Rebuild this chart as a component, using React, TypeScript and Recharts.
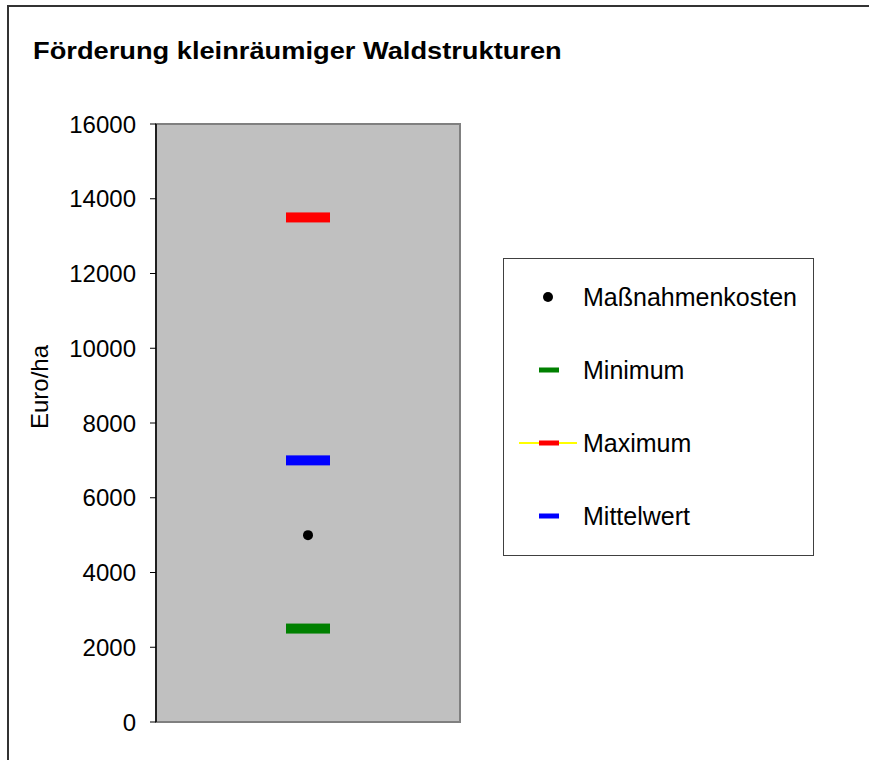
import React from "react";
import {
  ComposedChart,
  Scatter,
  XAxis,
  YAxis,
  ReferenceArea,
  Legend,
} from "recharts";

const categories = ["Förderung kleinräumiger Waldstrukturen"];
const massnahmenkosten = [5000];
const minimum = [2500];
const maximum = [13500];
const mittelwert = [7000];
const yTicks = [0, 2000, 4000, 6000, 8000, 10000, 12000, 14000, 16000];
const legendOrder = ["Maßnahmenkosten", "Minimum", "Maximum", "Mittelwert"];

const FONT = '"Liberation Sans", Arial, sans-serif';

const data = categories.map((name, i) => ({
  name,
  kosten: massnahmenkosten[i],
  min: minimum[i],
  max: maximum[i],
  mittel: mittelwert[i],
}));

// horizontal dash marker, like the Excel "-" marker
const dash = (color: string) => (props: any) => {
  const { cx, cy } = props;
  if (cx == null || cy == null) return <g />;
  return <rect x={cx - 22} y={cy - 5} width={44} height={10} fill={color} />;
};

const dot = (props: any) => {
  const { cx, cy } = props;
  if (cx == null || cy == null) return <g />;
  return <circle cx={cx} cy={cy} r={5} fill="#000" />;
};

const legendMarks: Record<string, { color: string; kind: string }> = {
  Maßnahmenkosten: { color: "#000000", kind: "dot" },
  Minimum: { color: "#008000", kind: "dash" },
  Maximum: { color: "#ff0000", kind: "dashLine" },
  Mittelwert: { color: "#0000ff", kind: "dash" },
};

function LegendBox(props: any) {
  const payload = [...(props.payload ?? [])].sort(
    (a: any, b: any) => legendOrder.indexOf(a.value) - legendOrder.indexOf(b.value),
  );
  return (
    <div
      style={{
        width: 311,
        height: 298,
        border: "1px solid #404040",
        background: "#fff",
        boxSizing: "border-box",
      }}
    >
      <svg width={309} height={296}>
        {payload.map((entry: any, i: number) => {
          const y = 38 + i * 73;
          const m = legendMarks[entry.value] ?? { color: entry.color, kind: "dash" };
          return (
            <g key={entry.value}>
              {m.kind === "dashLine" && (
                <line x1={15} x2={73} y1={y} y2={y} stroke="#ffff00" strokeWidth={2} />
              )}
              {m.kind === "dot" ? (
                <circle cx={44} cy={y} r={5} fill={m.color} />
              ) : (
                <rect x={35} y={y - 2.5} width={20} height={5} fill={m.color} />
              )}
              <text
                x={79}
                y={y}
                dominantBaseline="central"
                fontFamily={FONT}
                fontSize={25}
                fill="#000"
              >
                {entry.value}
              </text>
            </g>
          );
        })}
      </svg>
    </div>
  );
}

export default function App() {
  return (
    <div
      style={{
        position: "absolute",
        left: 0,
        top: 0,
        width: 869,
        height: 760,
        background: "#fff",
        overflow: "hidden",
      }}
    >
      <div
        style={{
          position: "absolute",
          left: 7,
          top: 5,
          width: 870,
          height: 770,
          borderTop: "2px solid #333",
          borderLeft: "2px solid #333",
        }}
      />
      <svg
        width={869}
        height={80}
        style={{ position: "absolute", left: 0, top: 0 }}
      >
        <text
          transform="translate(33,59) scale(1.185,1)"
          x={0}
          y={0}
          fontFamily={FONT}
          fontWeight="bold"
          fontSize={23}
          fill="#000"
        >
          Förderung kleinräumiger Waldstrukturen
        </text>
      </svg>
      <div style={{ position: "absolute", left: 0, top: 0 }}>
        <ComposedChart
          width={869}
          height={760}
          data={data}
          margin={{ top: 124, right: 409, bottom: 38, left: 56 }}
        >
          <ReferenceArea
            y1={0}
            y2={16000}
            fill="#c0c0c0"
            fillOpacity={1}
            stroke="#808080"
            strokeWidth={2}
          />
          <XAxis dataKey="name" type="category" hide />
          <YAxis
            width={100}
            domain={[0, 16000]}
            ticks={yTicks}
            interval={0}
            tickSize={6}
            tickMargin={14}
            axisLine={{ stroke: "#000", strokeWidth: 1.5 }}
            tickLine={{ stroke: "#000" }}
            tick={{ fill: "#000", fontSize: 24, fontFamily: FONT }}
            label={(p: any) => {
              const vb = p.viewBox ?? { x: 56, y: 124, width: 100, height: 598 };
              const cx = vb.x - 17;
              const cy = vb.y + vb.height / 2 - 36;
              return (
                <text
                  x={cx}
                  y={cy}
                  transform={`rotate(-90, ${cx}, ${cy})`}
                  textAnchor="middle"
                  dominantBaseline="central"
                  fontFamily={FONT}
                  fontSize={24}
                  fill="#000"
                >
                  Euro/ha
                </text>
              );
            }}
          />
          <Scatter
            name="Maßnahmenkosten"
            dataKey="kosten"
            fill="#000000"
            shape={dot}
            isAnimationActive={false}
          />
          <Scatter
            name="Minimum"
            dataKey="min"
            fill="#008000"
            shape={dash("#008000")}
            isAnimationActive={false}
          />
          <Scatter
            name="Maximum"
            dataKey="max"
            fill="#ff0000"
            shape={dash("#ff0000")}
            isAnimationActive={false}
          />
          <Scatter
            name="Mittelwert"
            dataKey="mittel"
            fill="#0000ff"
            shape={dash("#0000ff")}
            isAnimationActive={false}
          />
          <Legend
            layout="vertical"
            align="center"
            verticalAlign="middle"
            content={<LegendBox />}
            wrapperStyle={{
              position: "absolute",
              left: 503,
              top: 258,
              width: 311,
              height: 298,
              margin: 0,
            }}
          />
        </ComposedChart>
      </div>
    </div>
  );
}
